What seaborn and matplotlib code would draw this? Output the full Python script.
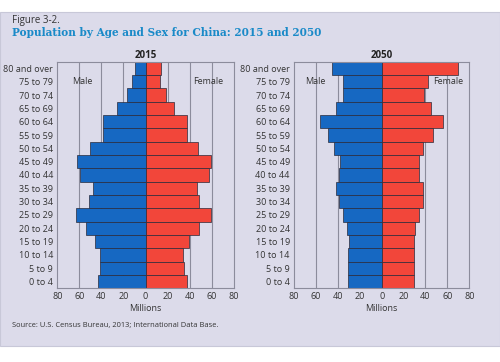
import pandas as pd
import seaborn as sns
import matplotlib.pyplot as plt
from matplotlib.patches import Rectangle

AGE_GROUPS = ['80 and over', '75 to 79', '70 to 74', '65 to 69', '60 to 64', '55 to 59',
              '50 to 54', '45 to 49', '40 to 44', '35 to 39', '30 to 34', '25 to 29',
              '20 to 24', '15 to 19', '10 to 14', '5 to 9', '0 to 4']

MALE_2015 = [9.7, 11.8, 17, 25.8, 38.2, 39, 50, 62.4, 59.4, 47.6, 51, 63, 54, 46, 41.2, 41.2, 43]
FEMALE_2015 = [14, 12.7, 18.2, 26, 38, 38, 48, 59.4, 57.3, 46.4, 48.8, 59.4, 48.8, 39.7, 34.2, 35, 38]
MALE_2050 = [45.3, 35, 35, 42, 56.5, 49.2, 43.2, 38.3, 39.2, 41.3, 38.9, 35.3, 31.9, 30.1, 31, 31, 31]
FEMALE_2050 = [70, 42.5, 38.3, 44.7, 55.6, 46.5, 38, 33.7, 34.3, 37.4, 37.4, 34.3, 30, 29.5, 29.5, 29.5, 29.5]

TICKS = [-80, -60, -40, -20, 0, 20, 40, 60, 80]

BLUE = '#1668c2'
RED = '#f2463a'
PANEL = '#dcdbea'
FRAME = '#8c8c9c'

sns.set_style('white')
plt.rcParams['font.family'] = ['Open Sans', 'DejaVu Sans']

fig = plt.figure(figsize=(5, 3.62), dpi=100)
fig.patch.set_facecolor('white')
fig.patches.append(Rectangle((0, 1 - 346 / 362), 1, (346 - 12) / 362, transform=fig.transFigure,
                             facecolor=PANEL, edgecolor='#c8c8d8', linewidth=0.8, zorder=-10))

fig.text(12 / 500, 1 - 21 / 362, 'Figure 3-2.', fontsize=7, color='#333333', va='center')
fig.text(12 / 500, 1 - 32 / 362, 'Population by Age and Sex for China: 2015 and 2050',
         fontsize=7.6, color='#1a8ac8', fontweight='bold', family='DejaVu Serif', va='center')
fig.text(12 / 500, 1 - 325 / 362, 'Source: U.S. Census Bureau, 2013; International Data Base.',
         fontsize=5.4, color='#333333', va='center')

# (title, male, female, axes rect, male label x, female label x)
panels = [
    ('2015', MALE_2015, FEMALE_2015, [57.3 / 500, 1 - 288.3 / 362, 176.4 / 500, 226.6 / 362], -57, 57),
    ('2050', MALE_2050, FEMALE_2050, [294 / 500, 1 - 288.3 / 362, 175.3 / 500, 226.6 / 362], -61, 61),
]

for year, male, female, rect, mx, fx in panels:
    ax = fig.add_axes(rect)
    ax.set_facecolor(PANEL)
    df = pd.DataFrame({'age': AGE_GROUPS * 2,
                       'value': [-m for m in male] + female,
                       'sex': ['Male'] * len(male) + ['Female'] * len(female)})
    for x in TICKS[1:-1]:
        if x != 0:
            ax.axvline(x, color=FRAME, linewidth=0.8, zorder=0)
    sns.barplot(data=df, x='value', y='age', hue='sex', order=AGE_GROUPS,
                palette={'Male': BLUE, 'Female': RED}, orient='h', width=1.0, dodge=False,
                saturation=1, edgecolor='#2a2a3a', linewidth=0.5, legend=False, ax=ax, zorder=2)
    ax.set_xlim(-80, 80)
    ax.set_ylim(len(AGE_GROUPS) - 0.5, -0.5)
    ax.set_xticks(TICKS)
    ax.set_xticklabels([str(abs(t)) for t in TICKS], fontsize=6.5, color='#333333')
    ax.tick_params(axis='y', labelsize=6.5, colors='#333333', length=0, pad=3)
    ax.tick_params(axis='x', length=0, pad=3)
    ax.set_xlabel('Millions', fontsize=6.5, color='#333333', labelpad=2)
    ax.set_ylabel('')
    ax.set_title(year, fontsize=7, fontweight='bold', color='#222222', pad=3)
    for s in ax.spines.values():
        s.set_color(FRAME)
        s.set_linewidth(0.8)
    ax.text(mx, 1, 'Male', fontsize=6.5, color='#333333', ha='center', va='center')
    ax.text(fx, 1, 'Female', fontsize=6.5, color='#333333', ha='center', va='center')

fig.savefig('out.png', dpi=100, facecolor=fig.get_facecolor())
